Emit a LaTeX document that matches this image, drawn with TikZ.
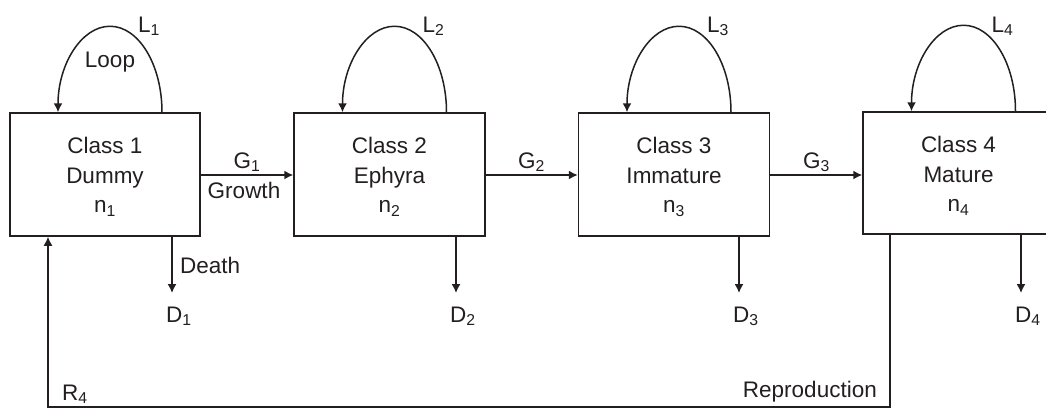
\documentclass[tikz,border=0pt]{standalone}
\usepackage{fontspec}
\setmainfont{Liberation Sans}
\usetikzlibrary{arrows.meta}
\definecolor{ink}{HTML}{231F20}
\tikzset{
  box/.style={draw=ink, line width=1.5pt, minimum width=190pt, minimum height=123pt, inner sep=0pt},
  boxtext/.style={align=center, text=ink, font=\fontsize{22.5}{29.5}\selectfont, inner sep=0pt},
  lbl/.style={text=ink, font=\fontsize{22.5}{26}\selectfont, inner sep=0pt, anchor=base west},
  arr/.style={draw=ink, line width=1.5pt, -{Latex[length=9pt,width=9pt]}},
  ln/.style={draw=ink, line width=1.5pt}
}
\newcommand{\sbs}[1]{\textsubscript{#1}}
\begin{document}
\begin{tikzpicture}[x=1pt,y=-1pt]
\useasboundingbox (0,0) rectangle (1046,408);
\clip (0,0) rectangle (1046,408);
% boxes
\node[box] (b1) at (105,174.5) {};
\node[box, minimum width=191pt] (b2) at (389.5,174.5) {};
\node[box, minimum width=191pt] (b3) at (674,174.5) {};
\node[box, minimum width=191pt, minimum height=122pt] (b4) at (958.5,173) {};
% box texts
\node[boxtext] (t1) at (105,177) {Class 1\\Dummy\\n\sbs{1}};
\node[boxtext] (t2) at (389.5,177) {Class 2\\Ephyra\\n\sbs{2}};
\node[boxtext] (t3) at (674,177) {Class 3\\Immature\\n\sbs{3}};
\node[boxtext] (t4) at (958.5,176) {Class 4\\Mature\\n\sbs{4}};
% loops
\foreach \b/\i in {b1/1,b2/2,b3/3,b4/4}{
  \draw[arr] ([xshift=57pt]\b.north) arc[start angle=0, end angle=180, x radius=52pt, y radius=86pt];
  \node[lbl] (L\i) at ([xshift=33pt]\b.north |- 0,32) {L\sbs{\i}};
}
\node[lbl, anchor=base] (loop) at (110,67) {Loop};
% growth arrows
\draw[arr] (b1.east |- 0,175) coordinate (g1s) -- (b2.west |- 0,175) coordinate (g1e);
\draw[arr] (b2.east |- 0,175) coordinate (g2s) -- (b3.west |- 0,175) coordinate (g2e);
\draw[arr] (b3.east |- 0,175) coordinate (g3s) -- (b4.west |- 0,175) coordinate (g3e);
\node[lbl, anchor=base] (G1) at (247,168) {G\sbs{1}};
\node[lbl, anchor=base] (G2) at (531.5,168) {G\sbs{2}};
\node[lbl, anchor=base] (G3) at (816.5,168) {G\sbs{3}};
\node[lbl, anchor=base] (growth) at (244,198) {Growth};
% death arrows
\foreach \b/\i/\dx in {b1/1/67,b2/2/66.5,b3/3/65,b4/4/62.5}{
  \coordinate (d\i) at ([xshift=\dx pt]\b.south |- 0,293);
  \draw[arr] ([xshift=\dx pt]\b.south) -- (d\i);
  \node[lbl] (D\i) at ([xshift=-6pt]d\i |- 0,322) {D\sbs{\i}};
}
\node[lbl] (death) at (180,273) {Death};
% reproduction
\draw[arr] ([xshift=-68.5pt]b4.south) -- ++(0,172) coordinate (rc) -| ([xshift=-57pt]b1.south);
\node[lbl] (R4) at (62,400) {R\sbs{4}};
\node[lbl, anchor=base east] (repro) at (877,397) {Reproduction};
\end{tikzpicture}
\end{document}
